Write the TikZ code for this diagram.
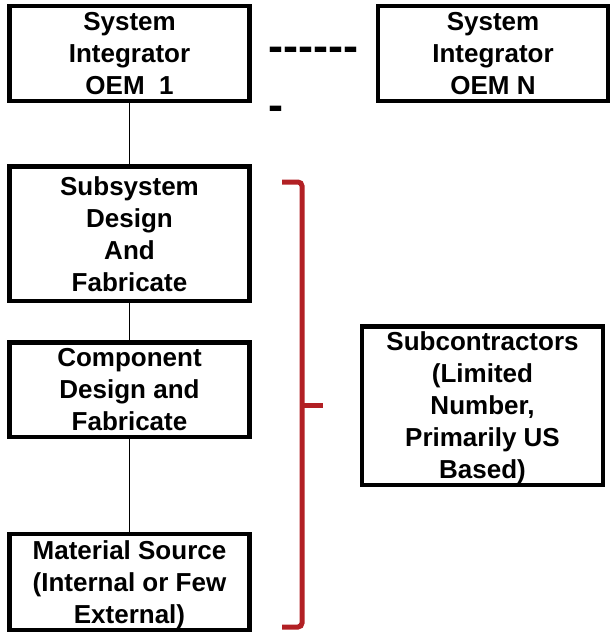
\documentclass[tikz,border=0pt]{standalone}
\usepackage{fontspec}
\setmainfont{Liberation Sans}
\newfontfamily\nolig[Ligatures=TeXOff]{Liberation Sans}
\definecolor{bracered}{RGB}{178,32,36}
\tikzset{
  box/.style={draw=black, line width=4.5pt, rectangle, inner sep=0pt, align=center,
    font=\bfseries\fontsize{26}{32}\selectfont},
  link/.style={draw=black, line width=1.4pt},
  dashtext/.style={inner sep=0pt, font=\nolig\bfseries\fontsize{45}{59}\selectfont, anchor=base west},
  bracket/.style={draw=bracered, line width=5pt, rounded corners=4pt}
}
\begin{document}
\begin{tikzpicture}[x=1pt, y=-1pt]
\useasboundingbox (0,0) rectangle (613,632);
\node[box, minimum width=240pt, minimum height=95pt] (oem1) at (129.5,53.5) {System\\Integrator\\OEM\ \ 1};
\node[box, minimum width=230pt, minimum height=95pt] (oemn) at (493,53.5) {System\\Integrator\\OEM N};
\node[dashtext] (dashA) at (268,61) {------};
\node[dashtext] (dashB) at (268,120) {-};
\node[box, minimum width=240pt, minimum height=134.5pt] (sub) at (129.5,233.75) {Subsystem\\Design\\And\\Fabricate};
\node[box, minimum width=240pt, minimum height=94.5pt, text depth=-4pt] (comp) at (129.5,389.75) {Component\\Design and\\Fabricate};
\node[box, minimum width=240pt, minimum height=96pt, text depth=-1pt] (mat) at (129.5,582) {Material Source\\(Internal or Few\\External)};
\node[box, minimum width=241pt, minimum height=158.5pt, text depth=-1pt] (subc) at (482.5,405.5) {Subcontractors\\(Limited\\Number,\\Primarily US\\Based)};
\draw[link] (oem1.south) -- (sub.north);
\draw[link] (sub.south) -- (comp.north);
\draw[link] (comp.south) -- (mat.north);
\coordinate (brTop) at (282,182);
\coordinate (brBot) at (282,627);
\coordinate (brMid) at (302,405);
\coordinate (brTip) at (323,405);
\draw[bracket] (brTop) -- (302,182) -- (302,627) -- (brBot);
\draw[bracket, rounded corners=0pt] (brMid) -- (brTip);
\end{tikzpicture}
\end{document}
